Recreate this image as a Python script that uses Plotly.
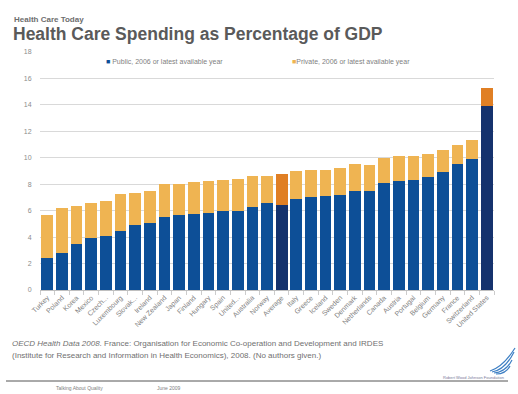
import plotly.graph_objects as go

countries = ["Turkey", "Poland", "Korea", "Mexico", "Czech...", "Luxembourg", "Slovak...",
             "Ireland", "New Zealand", "Japan", "Finland", "Hungary", "Spain", "United...",
             "Australia", "Norway", "Average", "Italy", "Greece", "Iceland", "Sweden",
             "Denmark", "Netherlands", "Canada", "Austria", "Portugal", "Belgium",
             "Germany", "France", "Switzerland", "United States"]
public = [2.45, 2.8, 3.5, 3.9, 4.1, 4.5, 4.95, 5.1, 5.55, 5.65, 5.75, 5.85, 5.95, 6.0,
          6.3, 6.55, 6.4, 6.9, 7.0, 7.1, 7.2, 7.5, 7.5, 8.1, 8.25, 8.3, 8.55, 8.95,
          9.55, 9.9, 13.9]
total = [5.7, 6.2, 6.35, 6.55, 6.75, 7.25, 7.35, 7.5, 8.0, 8.05, 8.15, 8.25, 8.35, 8.4,
         8.65, 8.65, 8.8, 9.0, 9.1, 9.1, 9.2, 9.5, 9.45, 10.0, 10.1, 10.15, 10.3, 10.6,
         10.95, 11.35, 15.3]
private = [round(t - p, 2) for t, p in zip(total, public)]
y_ticks = [0, 2, 4, 6, 8, 10, 12, 14, 16, 18]

PUB = "#0d4f97"
PRIV = "#efb452"
PUB_HI = "#15326d"
PRIV_HI = "#e07f24"
highlight = {"Average", "United States"}
pub_colors = [PUB_HI if c in highlight else PUB for c in countries]
priv_colors = [PRIV_HI if c in highlight else PRIV for c in countries]

FONT = "Liberation Sans, Arial, sans-serif"

fig = go.Figure()
fig.add_trace(go.Bar(x=countries, y=public, name="Public, 2006 or latest available year",
                     marker=dict(color=pub_colors, line=dict(width=0))))
fig.add_trace(go.Bar(x=countries, y=private, name="Private, 2006 or latest available year",
                     marker=dict(color=priv_colors, line=dict(width=0))))

fig.update_layout(
    width=518, height=394,
    barmode="stack", bargap=0.2,
    showlegend=False,
    paper_bgcolor="white", plot_bgcolor="white",
    margin=dict(l=40, r=24, t=52, b=104),
    font=dict(family=FONT, color="#777777", size=7),
    xaxis=dict(
        type="category", tickangle=-45, tickfont=dict(size=7, color="#808080"),
        showline=True, linecolor="#bfbfbf", linewidth=1,
        ticks="outside", tickson="boundaries", ticklen=4, tickcolor="#cccccc",
        showgrid=False,
    ),
    yaxis=dict(
        range=[0, 18], tickvals=y_ticks, ticktext=[str(v) for v in y_ticks],
        showgrid=True, gridcolor="#d9d9d9", gridwidth=1,
        zeroline=False, showline=False,
        ticks="outside", ticklen=6, tickcolor="rgba(0,0,0,0)",
        tickfont=dict(size=7, color="#8c8c8c"),
    ),
)

ann = [
    dict(text="<b>Health Care Today</b>", x=12, y=19, font=dict(size=8, color="#6e6e6e")),
    dict(text="<b>Health Care Spending as Percentage of GDP</b>", x=11, y=34,
         font=dict(size=17.5, color="#5a5a5a")),
    dict(text=f"<span style='color:{PUB}'>■</span> Public, 2006 or latest available year",
         x=104, y=62, font=dict(size=7, color="#7f7f7f")),
    dict(text=f"<span style='color:{PRIV}'>■</span>Private, 2006 or latest available year",
         x=290, y=62, font=dict(size=7, color="#7f7f7f")),
    dict(text="<i>OECD Health Data 2008</i>. France: Organisation for Economic Co-operation and Development and IRDES",
         x=10, y=343, font=dict(size=8, color="#707070")),
    dict(text="(Institute for Research and Information in Health Economics), 2008. (No authors given.)",
         x=10, y=355, font=dict(size=8, color="#707070")),
    dict(text="Talking About Quality", x=54, y=388, font=dict(size=5, color="#808080")),
    dict(text="June 2009", x=155, y=388, font=dict(size=5, color="#808080")),
    dict(text="Robert Wood Johnson Foundation", x=441, y=377, font=dict(size=4, color="#7a7a9a")),
]


def px(xp):
    return (xp - 40) / 454


def py(yp):
    return 1 - (yp - 52) / 238


annotations = []
for a in ann:
    annotations.append(dict(
        text=a["text"], xref="paper", yref="paper",
        x=px(a["x"]), y=py(a["y"]),
        xanchor="left", yanchor="middle", showarrow=False, font=dict(family=FONT, **a["font"]),
    ))
fig.update_layout(annotations=annotations)

shapes = [
    dict(type="line", xref="paper", yref="paper", x0=px(6), x1=px(508), y0=py(381), y1=py(381),
         line=dict(color="#555555", width=1)),
]
# small wing logo
wing = [
    "M 492 372 Q 505 370 514 352",
    "M 494 373 Q 506 372 512 360",
    "M 496 374 Q 506 374 510 366",
    "M 490 371 Q 503 367 515 348",
]
for d in wing:
    parts = d.split()
    out = []
    i = 0
    while i < len(parts):
        tok = parts[i]
        if tok in ("M", "Q"):
            out.append(tok)
            i += 1
        else:
            xv = float(parts[i]); yv = float(parts[i + 1])
            out.append(f"{px(xv):.4f},{py(yv):.4f}")
            i += 2
    shapes.append(dict(type="path", xref="paper", yref="paper", path=" ".join(out),
                       line=dict(color="#3d7fc4", width=1.2)))
fig.update_layout(shapes=shapes)

fig.write_html("out.html", config={"displayModeBar": False},
               post_script="document.body.style.margin='0';document.body.style.overflow='hidden';")
